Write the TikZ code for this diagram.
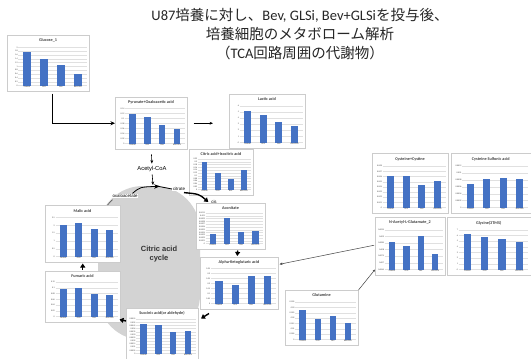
\documentclass[tikz,border=0pt]{standalone}
\usepackage{fontspec}
\setmainfont{Liberation Sans}
\newfontfamily\cjkfont{Noto Sans CJK JP}
\newfontfamily\calfont{Carlito}
\usetikzlibrary{arrows.meta,calc}

\definecolor{barblue}{HTML}{4472C4}
\definecolor{framegray}{HTML}{CCCCCC}
\definecolor{gridgray}{HTML}{E0E0E0}
\definecolor{cyclegray}{HTML}{D3D3D3}
\definecolor{labgray}{HTML}{404040}

\tikzset{
  chartbox/.style={rectangle, draw=framegray, line width=0.5pt, fill=white,
                   inner sep=0pt, anchor=north west},
  charttitle/.style={font=\calfont\bfseries\fontsize{4.2}{4.6}\selectfont,
                     text=labgray, inner sep=0pt},
  ticklab/.style={font=\calfont\fontsize{2.1}{2.3}\selectfont, text=labgray,
                  inner sep=0.5pt, anchor=east},
  catlab/.style={font=\calfont\fontsize{2.1}{2.3}\selectfont, text=labgray,
                 inner sep=0pt, anchor=north},
  gridline/.style={draw=gridgray, line width=0.3pt},
  flow/.style={draw=black, line width=0.6pt, -{Stealth[length=3.4pt,width=2.8pt]}},
  heavyflow/.style={draw=black, line width=1.2pt, -{Stealth[length=4.5pt,width=4pt]}},
  fatflow/.style={draw=black, line width=1.4pt, -{Triangle[length=4pt,width=5pt]}},
  thinline/.style={draw=black!75, line width=0.5pt},
  pathlabel/.style={font=\fontsize{5.8}{6.5}\selectfont, inner sep=0.5pt},
  smalllabel/.style={font=\fontsize{4.4}{5}\selectfont, inner sep=0.8pt},
  titletext/.style={font=\fontsize{14.5}{19}\selectfont, inner sep=0pt,
                    align=center, text=black!85},
}

% bar chart panel: #1 name, #2 left, #3 top, #4 width, #5 height,
% #6 title, #7 axis labels (bottom up), #8 bar heights as fractions of the axis
\newcommand{\drawchart}[8]{%
  \node[chartbox, minimum width=#4pt, minimum height=#5pt] (#1) at (#2,#3) {};
  \begin{scope}[shift={(#2,#3)}]
    \pgfmathsetmacro{\chL}{0.14*#4}
    \pgfmathsetmacro{\chR}{#4-2.5}
    \pgfmathsetmacro{\chT}{0.22*#5}
    \pgfmathsetmacro{\chB}{#5-5.5}
    \node[charttitle] at ({#4/2},{0.1*#5}) {#6};
    \foreach \lab [count=\k] in {#7} {\xdef\nticks{\k}}
    \foreach \lab [count=\k] in {#7} {
      \pgfmathsetmacro{\chY}{\chB-(\k-1)*(\chB-\chT)/(\nticks-1)}
      \draw[gridline] (\chL,\chY) -- (\chR,\chY);
      \node[ticklab] at (\chL,\chY) {\lab};
    }
    \pgfmathsetmacro{\chS}{(\chR-\chL)/4}
    \pgfmathsetmacro{\chW}{0.22*\chS}
    \foreach \v [count=\i] in {#8} {
      \pgfmathsetmacro{\chX}{\chL+(\i-0.5)*\chS}
      \fill[barblue] ({\chX-\chW},\chB) rectangle ({\chX+\chW},{\chB-\v*(\chB-\chT)});
    }
    \foreach \c [count=\i] in {Control,GLSi,Bev,Bev+GLSi} {
      \pgfmathsetmacro{\chX}{\chL+(\i-0.5)*\chS}
      \node[catlab] at (\chX,{\chB+0.8}) {\c};
    }
  \end{scope}
}

\begin{document}
\begin{tikzpicture}[x=1pt, y=-1pt]
  \fill[white] (0,0) rectangle (531,359);
  \useasboundingbox (0,0) rectangle (531,359);

  % heading
  \node[titletext] (title) at (300,34)
    {{\calfont U87}{\cjkfont 培養に対し、}{\calfont Bev, GLSi, Bev+GLSi}{\cjkfont を投与後、}\\
     {\cjkfont 培養細胞のメタボローム解析}\\
     {\cjkfont （}{\calfont TCA}{\cjkfont 回路周囲の代謝物）}};

  % the cycle backdrop
  \fill[cyclegray, rounded corners=45pt] (98,186) rectangle (200,340);
  \node[font=\bfseries\fontsize{7.5}{9}\selectfont, align=center, text=black!80] (cycle) at (159,254)
    {Citric acid\\cycle};

  % panels
  \drawchart{glucose}{7}{35}{82}{56}{Glucose\_1}
    {0,0.2,0.4,0.6,0.8,1,1.2,1.4,1.6,1.8,2}{0.87,0.7,0.53,0.3}
  \drawchart{pyruvate}{115}{97}{72}{52}{Pyruvate+Oxaloacetic acid}
    {0,0.02,0.04,0.06,0.08,0.1,0.12,0.14}{0.83,0.75,0.54,0.4}
  \drawchart{lactic}{229}{94}{76}{54}{Lactic acid}
    {0,1,2,3,4,5,6}{0.85,0.75,0.57,0.45}
  \drawchart{citric}{189}{149}{64}{46}{Citric acid+Isocitric acid}
    {0,0.02,0.04,0.06,0.08,0.1,0.12,0.14,0.16,0.18,0.2,0.22}{0.9,0.55,0.35,0.63}
  \drawchart{aconitate}{196}{203}{69}{46}{Aconitate}
    {0,0.0001,0.0002,0.0003,0.0004,0.0005,0.0006,0.0007,0.0008,0.0009,0.001,0.0011}{0.3,0.85,0.38,0.42}
  \drawchart{alpha}{200}{257}{78}{52}{Alpha-Ketoglutaric acid}
    {0,0.05,0.1,0.15,0.2,0.25,0.3,0.35}{0.65,0.52,0.78,0.78}
  \drawchart{succinic}{126}{308}{72}{51}{Succinic acid(or aldehyde)}
    {0,0.0005,0.001,0.0015,0.002,0.0025,0.003,0.0035,0.004,0.0045,0.005,0.0055}{0.85,0.82,0.64,0.67}
  \drawchart{malic}{45}{205}{75}{57}{Malic acid}
    {0,0.5,1,1.5,2,2.5}{0.82,0.86,0.71,0.67}
  \drawchart{fumaric}{45}{271}{75}{51}{Fumaric acid}
    {0,0.02,0.04,0.06,0.08,0.1,0.12}{0.8,0.83,0.67,0.63}
  \drawchart{cysteine}{372}{153}{76}{60}{Cysteine+Cystine}
    {0,0.001,0.002,0.003,0.004,0.005,0.006,0.007,0.008}{0.76,0.77,0.55,0.64}
  \drawchart{sulfonic}{451}{153}{79.5}{60}{Cysteine Sulfonic acid}
    {0,0.0002,0.0004,0.0006,0.0008,0.001,0.0012}{0.56,0.68,0.72,0.68}
  \drawchart{nacetyl}{375}{217}{70}{58}{N-Acetyl-L-Glutamate\_2}
    {0.0065,0.007,0.0075,0.008,0.0085,0.009,0.0095}{0.68,0.6,0.84,0.38}
  \drawchart{glycine}{447}{217}{83.5}{58}{Glycine(3TMS)}
    {0,1,2,3,4,5,6,7}{0.89,0.81,0.76,0.69}
  \drawchart{glutamine}{285}{290}{73}{55}{Glutamine}
    {0,0.005,0.01,0.015,0.02,0.025,0.03,0.035}{0.8,0.55,0.62,0.45}

  % pathway labels
  \node[pathlabel] (acoa) at (152,169) {Acetyl-CoA};
  \node[smalllabel, fill=white] (citrate) at (179,189) {citrate};
  \node[smalllabel, fill=white] (oxa) at (125,196) {oxaloacetate};
  \node[smalllabel] (cis) at (214,202) {cis};

  % connectors
  \draw[heavyflow] ($(glucose.south)+(4,2)$) |- (pyruvate.west);
  \draw[flow, shorten <=6pt, shorten >=16pt] (pyruvate.east) -- (pyruvate.east -| lactic.west);
  \draw[flow, shorten <=5pt, shorten >=2pt] (pyruvate.south) -- (acoa.north);
  \coordinate (join) at (153,185);
  \draw[flow, shorten <=2pt] (acoa.south) -- (join);
  \coordinate (archead) at (160,186.3);
  \draw[line width=0.8pt, -{Stealth[length=6pt,width=4.5pt]}]
    ($(oxa.north east)+(-6,0)$) .. controls (140,187) .. (archead);
  \draw[line width=0.8pt] ($(archead)+(-2,0)$) -- (citrate.west);
  \draw[fatflow] ($(citrate.south east)+(-2,1)$) .. controls (199,194) .. ($(cis.west)+(-2,0)$);
  \draw[fatflow] ($(aconitate.south)+(7,1)$) -- ($(alpha.north)+(-2,-1)$);
  \draw[fatflow] ($(alpha.south west)+(9,4)$) -- ($(alpha.south west)+(1,9)$);
  \draw[fatflow] ($(succinic.north west)+(0,13)$) -- ($(fumaric.south east)+(-1,-3)$);
  \draw[fatflow] ($(fumaric.north)+(0,-1)$) -- ($(malic.south)+(0,1)$);
  \draw[thinline] ($(malic.north east)+(-13,0)$) -- ($(oxa.south west)+(1,1)$);
  \draw[thinline, -{Stealth[length=2.5pt,width=2pt]}] (glutamine.north east) -- ($(nacetyl.south west)+(0,-6)$);
  \draw[thinline, -{Stealth[length=3pt,width=2.5pt]}] ($(nacetyl.west)+(-1,-1)$) -- ($(alpha.east)+(1,-19)$);
\end{tikzpicture}
\end{document}
